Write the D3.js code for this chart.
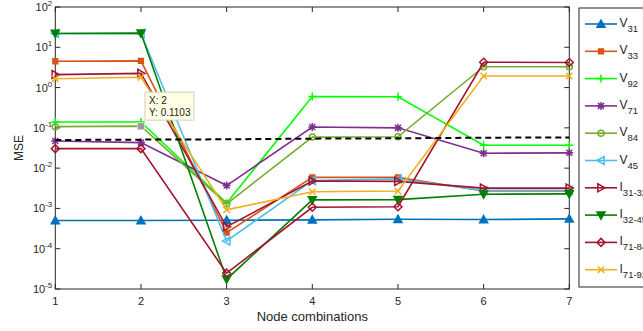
<!DOCTYPE html>
<html>
<head>
<meta charset="utf-8">
<script src="https://cdn.jsdelivr.net/npm/d3@7"></script>
<style>
  html, body { margin: 0; padding: 0; background: #fff; }
  svg { display: block; font-family: "Liberation Sans", Arial, Helvetica, sans-serif; }
</style>
</head>
<body>
<svg id="chart" width="643" height="331"></svg>
<script>
// Node combinations on the x axis
const nodes = [1, 2, 3, 4, 5, 6, 7];

// MSE per estimated quantity (log scale)
const V31   = [5.0e-4, 5.0e-4, 5.1e-4, 5.2e-4, 5.4e-4, 5.3e-4, 5.5e-4];
const V33   = [4.5, 4.6, 2.5e-4, 5.9e-3, 5.9e-3, 2.7e-3, 2.7e-3];
const V92   = [0.14, 0.14, 1.35e-3, 0.6, 0.59, 0.037, 0.037];
const V71   = [0.047, 0.043, 3.7e-3, 0.105, 0.1, 0.0234, 0.024];
const V84   = [0.107, 0.1103, 1.3e-3, 0.059, 0.06, 3.3, 3.3];
const V45   = [22, 22, 1.56e-4, 4.9e-3, 5.4e-3, 2.8e-3, 2.8e-3];
const I3132 = [2.1, 2.25, 3.5e-4, 4.8e-3, 4.7e-3, 3.2e-3, 3.2e-3];
const I3245 = [22, 22.5, 1.75e-5, 1.63e-3, 1.65e-3, 2.25e-3, 2.3e-3];
const I7184 = [0.0305, 0.0305, 2.47e-5, 1.07e-3, 1.1e-3, 4.25, 4.2];
const I7192 = [1.66, 1.8, 9.2e-4, 2.6e-3, 2.7e-3, 1.94, 1.94];

// Dashed reference level
const threshold = [0.05, 0.051, 0.052, 0.054, 0.055, 0.057, 0.058];

// Y tick exponents (decades)
const yTickExponents = [-5, -4, -3, -2, -1, 0, 1, 2];

// Data tip
const tipNode = 2;
const tipValue = 0.1103;

const series = [
  { base: "V", sub: "31",    values: V31,   color: "#0072BD", marker: "triUp",    filled: true },
  { base: "V", sub: "33",    values: V33,   color: "#D95319", marker: "square",   filled: true },
  { base: "V", sub: "92",    values: V92,   color: "#00FF00", marker: "plus",     filled: false },
  { base: "V", sub: "71",    values: V71,   color: "#7E2F8E", marker: "asterisk", filled: false },
  { base: "V", sub: "84",    values: V84,   color: "#77AC30", marker: "circle",   filled: false },
  { base: "V", sub: "45",    values: V45,   color: "#4DBEEE", marker: "triLeft",  filled: false },
  { base: "I", sub: "31-32", values: I3132, color: "#A2142F", marker: "triRight", filled: false },
  { base: "I", sub: "32-45", values: I3245, color: "#008000", marker: "triDown",  filled: true },
  { base: "I", sub: "71-84", values: I7184, color: "#A2142F", marker: "diamond",  filled: false },
  { base: "I", sub: "71-92", values: I7192, color: "#EDB120", marker: "xmark",    filled: false }
];

const svg = d3.select("#chart");
const plot = { left: 55.3, right: 569.3, top: 7, bottom: 289 };
const axisColor = "#262626";

const x = d3.scaleLinear().domain([1, 7]).range([plot.left, plot.right]);
const y = d3.scaleLog().domain([1e-5, 1e2]).range([plot.bottom, plot.top]);

function markerPath(type, s) {
  switch (type) {
    case "triUp":    return `M0,${-s}L${s},${s * 0.8}L${-s},${s * 0.8}Z`;
    case "triDown":  return `M0,${s}L${s},${-s * 0.8}L${-s},${-s * 0.8}Z`;
    case "triLeft":  return `M${-s},0L${s * 0.8},${-s}L${s * 0.8},${s}Z`;
    case "triRight": return `M${s},0L${-s * 0.8},${-s}L${-s * 0.8},${s}Z`;
    case "square":   { const h = s * 0.6; return `M${-h},${-h}H${h}V${h}H${-h}Z`; }
    case "diamond":  return `M0,${-s}L${s},0L0,${s}L${-s},0Z`;
    case "plus":     return `M${-s},0H${s}M0,${-s}V${s}`;
    case "xmark":    { const h = s * 0.8; return `M${-h},${-h}L${h},${h}M${-h},${h}L${h},${-h}`; }
    case "asterisk": { const h = s * 0.75; return `M${-s},0H${s}M0,${-s}V${s}M${-h},${-h}L${h},${h}M${-h},${h}L${h},${-h}`; }
    case "circle":   { const r = s * 0.75; return `M${r},0A${r},${r} 0 1,1 ${-r},0A${r},${r} 0 1,1 ${r},0Z`; }
  }
}

// Axes box
svg.append("rect")
  .attr("x", plot.left).attr("y", plot.top)
  .attr("width", plot.right - plot.left).attr("height", plot.bottom - plot.top)
  .attr("fill", "none").attr("stroke", axisColor).attr("stroke-width", 1);

// Ticks (inward, mirrored on top and right)
const tickLen = 5;
const gTicks = svg.append("g").attr("stroke", axisColor).attr("stroke-width", 1);
nodes.forEach(n => {
  gTicks.append("line").attr("x1", x(n)).attr("x2", x(n)).attr("y1", plot.bottom).attr("y2", plot.bottom - tickLen);
  gTicks.append("line").attr("x1", x(n)).attr("x2", x(n)).attr("y1", plot.top).attr("y2", plot.top + tickLen);
});
yTickExponents.forEach(e => {
  const yy = y(Math.pow(10, e));
  gTicks.append("line").attr("x1", plot.left).attr("x2", plot.left + tickLen).attr("y1", yy).attr("y2", yy);
  gTicks.append("line").attr("x1", plot.right).attr("x2", plot.right - tickLen).attr("y1", yy).attr("y2", yy);
});

// X tick labels
svg.append("g").selectAll("text").data(nodes).join("text")
  .attr("x", d => x(d)).attr("y", plot.bottom + 16)
  .attr("text-anchor", "middle").attr("font-size", 11).attr("fill", axisColor)
  .text(d => d);

// Y tick labels as powers of ten
const yl = svg.append("g").selectAll("text").data(yTickExponents).join("text")
  .attr("x", plot.left - 3).attr("y", d => y(Math.pow(10, d)) + 4)
  .attr("text-anchor", "end").attr("font-size", 11).attr("fill", axisColor);
yl.append("tspan").text("10");
yl.append("tspan").attr("font-size", 8).attr("dy", -5).text(d => d);

// Axis titles
svg.append("text")
  .attr("x", (plot.left + plot.right) / 2).attr("y", 321)
  .attr("text-anchor", "middle").attr("font-size", 13).attr("fill", axisColor)
  .text("Node combinations");
svg.append("text")
  .attr("transform", `translate(23,${(plot.top + plot.bottom) / 2}) rotate(-90)`)
  .attr("text-anchor", "middle").attr("font-size", 12).attr("fill", axisColor)
  .text("MSE");

// Series lines and markers
const line = d3.line().x((d, i) => x(nodes[i])).y(d => y(d));
const gSeries = svg.append("g");
series.forEach(s => {
  const g = gSeries.append("g");
  g.append("path").datum(s.values)
    .attr("d", line).attr("fill", "none")
    .attr("stroke", s.color).attr("stroke-width", 1.6);
  g.selectAll("path.m").data(s.values).join("path").attr("class", "m")
    .attr("transform", (d, i) => `translate(${x(nodes[i])},${y(d)})`)
    .attr("d", markerPath(s.marker, 4))
    .attr("fill", s.filled ? s.color : "none")
    .attr("stroke", s.color).attr("stroke-width", 1.5);
});

// Dashed reference level
svg.append("path").datum(threshold)
  .attr("d", line).attr("fill", "none")
  .attr("stroke", "#000").attr("stroke-width", 2)
  .attr("stroke-dasharray", "6,4");

// Data tip
const tx = x(tipNode), ty = y(tipValue);
svg.append("rect")
  .attr("x", tx - 3.5).attr("y", ty - 3.5).attr("width", 7).attr("height", 7)
  .attr("fill", "#9a9a9a").attr("stroke", "#d8d8d8").attr("stroke-width", 1);
const tip = svg.append("g").attr("transform", `translate(${tx + 4},${ty - 34})`);
tip.append("rect").attr("x", 0).attr("y", 0).attr("width", 49).attr("height", 28)
  .attr("fill", "#FFFFE6").attr("stroke", "#cfcfbf").attr("stroke-width", 1);
tip.append("text").attr("x", 4).attr("y", 12).attr("font-size", 10).attr("fill", "#222").text(`X: ${tipNode}`);
tip.append("text").attr("x", 4).attr("y", 24).attr("font-size", 10).attr("fill", "#222").text(`Y: ${tipValue}`);

// Legend
const leg = { x: 579, y: 8, w: 90, h: 279, first: 24, step: 27.3 };
svg.append("rect")
  .attr("x", leg.x).attr("y", leg.y).attr("width", leg.w).attr("height", leg.h)
  .attr("fill", "#fff").attr("stroke", axisColor).attr("stroke-width", 1);
series.forEach((s, i) => {
  const ly = leg.first + i * leg.step;
  const g = svg.append("g");
  g.append("line").attr("x1", 585).attr("x2", 617).attr("y1", ly).attr("y2", ly)
    .attr("stroke", s.color).attr("stroke-width", 1.6);
  g.append("path").attr("transform", `translate(601,${ly})`)
    .attr("d", markerPath(s.marker, 4))
    .attr("fill", s.filled ? s.color : "none")
    .attr("stroke", s.color).attr("stroke-width", 1.5);
  const t = g.append("text").attr("x", 619.5).attr("y", ly + 3).attr("font-size", 12).attr("fill", axisColor);
  t.append("tspan").text(s.base);
  t.append("tspan").attr("font-size", 9.5).attr("dy", 5).text(s.sub);
});
</script>
</body>
</html>
